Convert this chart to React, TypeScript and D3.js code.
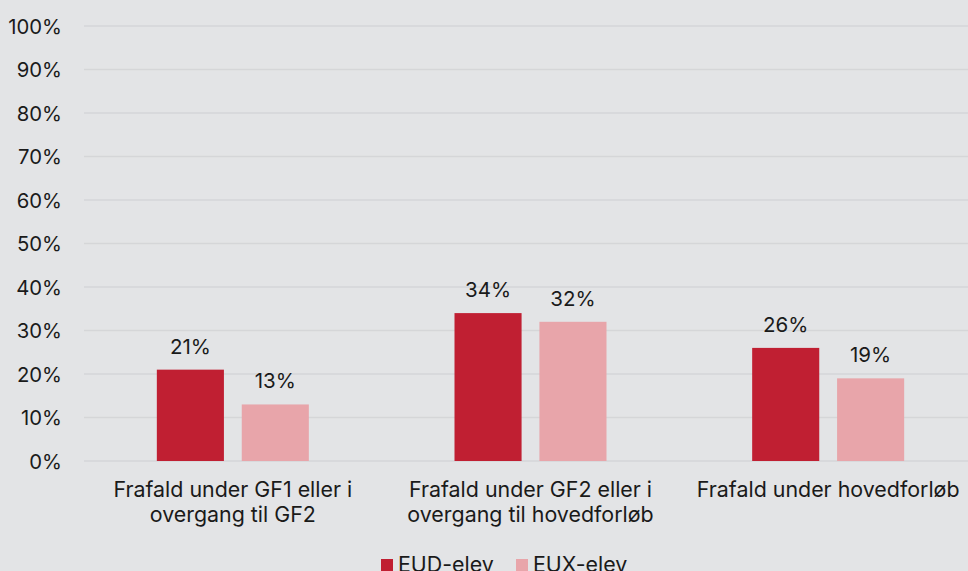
import React from "react";
import * as d3 from "d3";

const categories = [
  ["Frafald under GF1 eller i", "overgang til GF2"],
  ["Frafald under GF2 eller i", "overgang til hovedforløb"],
  ["Frafald under hovedforløb"],
];
const seriesNames = ["EUD-elev", "EUX-elev"];
const eudValues = [21, 34, 26];
const euxValues = [13, 32, 19];
const yTicks = [0, 10, 20, 30, 40, 50, 60, 70, 80, 90, 100];

const W = 968;
const H = 571;
const colors = ["#c01f32", "#e8a5aa"];
const font = "Inter, 'Noto Sans', sans-serif";
const fw = 400;

export default function App() {
  const x0 = d3.scaleBand<number>().domain([0, 1, 2]).range([84, 977]);
  const x1 = d3.scaleBand<number>().domain([0, 1]).range([0, 152]).paddingInner(0.21);
  const y = d3.scaleLinear().domain([0, 100]).range([461, 26]);
  const series = [eudValues, euxValues];
  return (
    <svg width={W} height={H} style={{ position: "absolute", left: 0, top: 0, display: "block" }}>
      <rect x={0} y={0} width={W} height={H} fill="#e3e4e6" />
      {yTicks.map((t) => (
        <g key={t}>
          <line x1={84} x2={W} y1={y(t)} y2={y(t)} stroke="#d5d6d8" strokeWidth={1.3} />
          <text x={62} y={y(t) + 7.5} textAnchor="end" fontFamily={font} fontWeight={fw} fontSize={20.3} fill="#1a1a1a">
            {t}%
          </text>
        </g>
      ))}
      {categories.map((cat, i) => {
        const cx = x0(i)! + x0.bandwidth() / 2;
        const gx = cx - 76;
        return (
          <g key={i}>
            {series.map((vals, s) => {
              const bx = gx + x1(s)!;
              const bw = x1.bandwidth();
              return (
                <g key={s}>
                  <rect x={bx} y={y(vals[i])} width={bw} height={y(0) - y(vals[i])} fill={colors[s]} />
                  <text x={bx + bw / 2} y={y(vals[i]) - 16} textAnchor="middle" fontFamily={font} fontWeight={fw} fontSize={20.5} fill="#1a1a1a">
                    {vals[i]}%
                  </text>
                </g>
              );
            })}
            {cat.map((line, li) => (
              <text key={li} x={cx} y={497 + li * 24.5} textAnchor="middle" fontFamily={font} fontWeight={fw} fontSize={21.4} fill="#1a1a1a">
                {line}
              </text>
            ))}
          </g>
        );
      })}
      {seriesNames.map((n, s) => {
        const lx = [381, 516][s];
        return (
          <g key={n}>
            <rect x={lx} y={559} width={12} height={12} fill={colors[s]} />
            <text x={lx + 17} y={572} fontFamily={font} fontWeight={fw} fontSize={21.4} fill="#1a1a1a">
              {n}
            </text>
          </g>
        );
      })}
    </svg>
  );
}
